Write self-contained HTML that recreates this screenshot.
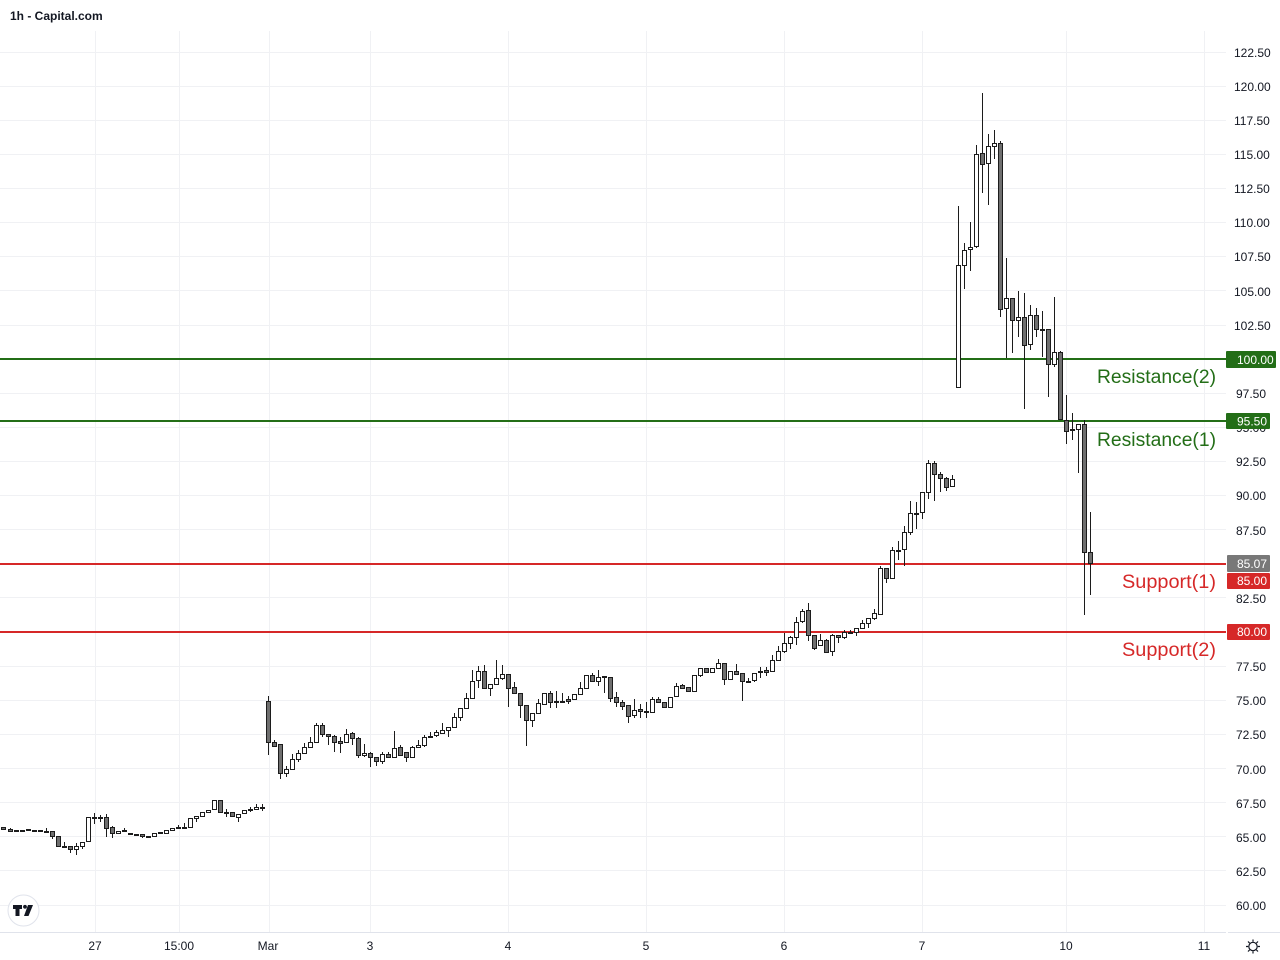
<!DOCTYPE html>
<html><head><meta charset="utf-8"><style>
html,body{margin:0;padding:0;background:#fff;width:1280px;height:960px;overflow:hidden}
svg{display:block}
text{font-family:"Liberation Sans",Arial,sans-serif}
</style></head><body>
<svg width="1280" height="960" viewBox="0 0 1280 960" xmlns="http://www.w3.org/2000/svg">
<rect width="1280" height="960" fill="#fff"/>
<g stroke="#f0f1f4" stroke-width="1" shape-rendering="crispEdges">
<path d="M0 52.5H1226M0 86.5H1226M0 120.5H1226M0 154.5H1226M0 188.5H1226M0 222.5H1226M0 256.5H1226M0 290.5H1226M0 325.5H1226M0 359.5H1226M0 393.5H1226M0 427.5H1226M0 461.5H1226M0 495.5H1226M0 529.5H1226M0 563.5H1226M0 597.5H1226M0 632.5H1226M0 666.5H1226M0 700.5H1226M0 734.5H1226M0 768.5H1226M0 802.5H1226M0 836.5H1226M0 870.5H1226M0 905.5H1226"/>
<path d="M95.5 31V932M179.5 31V932M269.5 31V932M370.5 31V932M508.5 31V932M646.5 31V932M784.5 31V932M922.5 31V932M1066.5 31V932M1204.5 31V932"/>
</g>
<path d="M0 932.5H1226M1228 932.5H1280" stroke="#e0e3eb" stroke-width="1" shape-rendering="crispEdges"/>
<g stroke-width="2" shape-rendering="crispEdges">
<path d="M0 359H1226M0 421H1226" stroke="#236e17"/>
<path d="M0 564H1226M0 632H1226" stroke="#d62828"/>
</g>
<path stroke="#1c1c1c" stroke-width="1" fill="none" d="M3.5 827V829M10.5 828V832M16.5 830V831M22.5 830V831M28.5 829V831M34.5 830V831M40.5 830V831M46.5 828V832M52.5 831V839M58.5 836V847M64.5 842V847M70.5 846V853M76.5 843V855M82.5 842V849M88.5 817V841M94.5 813V824M100.5 815V822M106.5 814V837M112.5 826V838M118.5 831V833M124.5 828V831M130.5 833V834M136.5 834V835M142.5 834V838M148.5 836V837M154.5 833V836M160.5 832V833M166.5 830V833M172.5 828V830M178.5 825V829M184.5 823V828M190.5 818V827M196.5 816V822M202.5 812V816M208.5 810V812M214.5 800V809M220.5 800V812M226.5 809V817M232.5 812V816M238.5 814V822M244.5 810V813M250.5 807V812M256.5 804V809M262.5 804V811M268.5 696V755M274.5 740V747M280.5 744V779M286.5 766V777M292.5 754V769M298.5 750V762M304.5 743V753M310.5 737V747M316.5 723V742M322.5 723V737M328.5 734V745M334.5 735V752M340.5 737V753M346.5 729V742M352.5 732V745M358.5 737V758M364.5 744V757M370.5 752V767M376.5 757V766M382.5 752V764M388.5 752V758M394.5 731V757M400.5 745V756M406.5 752V762M412.5 746V757M418.5 740V747M424.5 735V747M430.5 732V737M436.5 730V737M442.5 723V733M448.5 727V737M454.5 713V727M460.5 708V721M466.5 693V708M472.5 670V698M478.5 666V688M484.5 665V689M490.5 684V696M496.5 660V684M502.5 665V680M508.5 674V707M514.5 682V693M520.5 693V718M526.5 705V746M532.5 713V727M538.5 699V713M544.5 693V704M550.5 691V708M556.5 691V708M562.5 693V703M568.5 696V704M574.5 694V699M580.5 682V694M586.5 675V688M592.5 673V681M598.5 670V686M604.5 676V693M610.5 677V702M616.5 692V707M622.5 700V710M628.5 705V723M634.5 699V718M640.5 704V718M646.5 702V718M652.5 697V712M658.5 697V703M664.5 702V708M670.5 697V707M676.5 683V696M682.5 684V689M688.5 687V691M694.5 675V691M700.5 668V677M706.5 668V672M712.5 668V672M718.5 659V668M724.5 663V685M730.5 671V679M736.5 664V674M742.5 673V701M748.5 678V683M754.5 673V682M760.5 667V678M766.5 667V676M772.5 655V671M778.5 646V661M784.5 633V653M790.5 636V649M796.5 617V645M802.5 609V623M808.5 603V641M814.5 635V650M820.5 634V645M826.5 639V653M832.5 634V656M838.5 635V643M844.5 630V639M850.5 630V634M856.5 628V636M862.5 620V628M868.5 618V628M874.5 609V620M880.5 566V614M886.5 568V583M892.5 547V578M898.5 541V560M904.5 526V566M910.5 501V535M916.5 502V529M922.5 492V519M928.5 460V499M934.5 461V501M940.5 472V492M946.5 477V491M952.5 475V487M958.5 206V387M964.5 243V289M970.5 222V271M976.5 145V248M982.5 93V193M988.5 134V205M994.5 130V159M1000.5 141V317M1006.5 258V358M1012.5 298V353M1018.5 291V337M1024.5 293V409M1030.5 305V350M1036.5 308V337M1042.5 311V357M1048.5 329V397M1054.5 297V367M1060.5 351V419M1066.5 395V444M1072.5 413V440M1078.5 424V473M1084.5 420V615M1090.5 512V595"/>
<path fill="#6f6f6f" stroke="#1c1c1c" stroke-width="1" d="M1.5 827.5h4v2h-4zM8.5 829.5h4v2h-4zM14.5 830.5h4v1h-4zM20.5 830.5h4v1h-4zM26.5 829.5h4v1h-4zM32.5 830.5h4v1h-4zM38.5 830.5h4v1h-4zM44.5 831.5h4v1h-4zM50.5 831.5h4v5h-4zM56.5 836.5h4v10h-4zM62.5 846.5h4v1h-4zM68.5 846.5h4v3h-4zM92.5 817.5h4v1h-4zM98.5 817.5h4v1h-4zM104.5 817.5h4v11h-4zM110.5 827.5h4v6h-4zM122.5 830.5h4v1h-4zM128.5 833.5h4v1h-4zM134.5 834.5h4v1h-4zM140.5 834.5h4v2h-4zM146.5 836.5h4v1h-4zM158.5 832.5h4v1h-4zM176.5 827.5h4v1h-4zM218.5 800.5h4v12h-4zM224.5 812.5h4v1h-4zM230.5 812.5h4v4h-4zM248.5 809.5h4v1h-4zM260.5 807.5h4v1h-4zM266.5 701.5h4v41h-4zM272.5 742.5h4v4h-4zM278.5 744.5h4v29h-4zM320.5 725.5h4v9h-4zM326.5 734.5h4v2h-4zM332.5 736.5h4v6h-4zM338.5 741.5h4v2h-4zM350.5 733.5h4v5h-4zM356.5 738.5h4v17h-4zM368.5 753.5h4v4h-4zM374.5 757.5h4v4h-4zM386.5 754.5h4v3h-4zM398.5 747.5h4v8h-4zM404.5 752.5h4v5h-4zM428.5 736.5h4v1h-4zM482.5 671.5h4v17h-4zM506.5 674.5h4v14h-4zM512.5 687.5h4v6h-4zM518.5 693.5h4v12h-4zM524.5 705.5h4v15h-4zM548.5 693.5h4v9h-4zM554.5 701.5h4v1h-4zM560.5 701.5h4v1h-4zM566.5 699.5h4v2h-4zM590.5 675.5h4v6h-4zM602.5 676.5h4v1h-4zM608.5 677.5h4v21h-4zM614.5 697.5h4v5h-4zM620.5 702.5h4v4h-4zM626.5 705.5h4v11h-4zM638.5 709.5h4v2h-4zM644.5 711.5h4v1h-4zM656.5 699.5h4v3h-4zM662.5 702.5h4v5h-4zM680.5 685.5h4v3h-4zM686.5 687.5h4v4h-4zM704.5 668.5h4v4h-4zM722.5 663.5h4v16h-4zM734.5 671.5h4v3h-4zM740.5 673.5h4v8h-4zM746.5 681.5h4v1h-4zM758.5 671.5h4v1h-4zM764.5 670.5h4v2h-4zM806.5 610.5h4v25h-4zM812.5 635.5h4v13h-4zM824.5 640.5h4v12h-4zM836.5 635.5h4v2h-4zM848.5 632.5h4v1h-4zM884.5 568.5h4v10h-4zM896.5 550.5h4v1h-4zM914.5 513.5h4v1h-4zM932.5 463.5h4v11h-4zM938.5 474.5h4v4h-4zM944.5 478.5h4v9h-4zM980.5 153.5h4v11h-4zM998.5 143.5h4v166h-4zM1010.5 298.5h4v22h-4zM1022.5 317.5h4v28h-4zM1034.5 315.5h4v14h-4zM1040.5 329.5h4v1h-4zM1046.5 329.5h4v35h-4zM1058.5 352.5h4v67h-4zM1064.5 420.5h4v11h-4zM1070.5 429.5h4v1h-4zM1082.5 424.5h4v128h-4zM1088.5 552.5h4v11h-4z"/>
<path fill="#ffffff" stroke="#1c1c1c" stroke-width="1" d="M74.5 846.5h4v3h-4zM80.5 842.5h4v4h-4zM86.5 817.5h4v24h-4zM116.5 831.5h4v2h-4zM152.5 833.5h4v3h-4zM164.5 830.5h4v3h-4zM170.5 828.5h4v2h-4zM182.5 827.5h4v1h-4zM188.5 818.5h4v9h-4zM194.5 816.5h4v2h-4zM200.5 812.5h4v4h-4zM206.5 810.5h4v2h-4zM212.5 800.5h4v9h-4zM236.5 814.5h4v3h-4zM242.5 810.5h4v3h-4zM254.5 807.5h4v2h-4zM284.5 769.5h4v4h-4zM290.5 759.5h4v10h-4zM296.5 753.5h4v6h-4zM302.5 747.5h4v6h-4zM308.5 742.5h4v5h-4zM314.5 725.5h4v17h-4zM344.5 734.5h4v8h-4zM362.5 753.5h4v2h-4zM380.5 754.5h4v7h-4zM392.5 748.5h4v9h-4zM410.5 747.5h4v10h-4zM416.5 745.5h4v2h-4zM422.5 737.5h4v8h-4zM434.5 732.5h4v3h-4zM440.5 730.5h4v3h-4zM446.5 727.5h4v3h-4zM452.5 717.5h4v10h-4zM458.5 708.5h4v9h-4zM464.5 698.5h4v10h-4zM470.5 681.5h4v17h-4zM476.5 671.5h4v9h-4zM488.5 684.5h4v4h-4zM494.5 678.5h4v6h-4zM500.5 674.5h4v4h-4zM530.5 713.5h4v7h-4zM536.5 703.5h4v10h-4zM542.5 693.5h4v11h-4zM572.5 694.5h4v5h-4zM578.5 688.5h4v6h-4zM584.5 675.5h4v13h-4zM596.5 677.5h4v4h-4zM632.5 710.5h4v5h-4zM650.5 699.5h4v13h-4zM668.5 697.5h4v10h-4zM674.5 686.5h4v10h-4zM692.5 675.5h4v16h-4zM698.5 668.5h4v7h-4zM710.5 668.5h4v4h-4zM716.5 663.5h4v5h-4zM728.5 671.5h4v8h-4zM752.5 673.5h4v7h-4zM770.5 660.5h4v11h-4zM776.5 651.5h4v9h-4zM782.5 643.5h4v8h-4zM788.5 637.5h4v6h-4zM794.5 622.5h4v15h-4zM800.5 611.5h4v10h-4zM818.5 640.5h4v5h-4zM830.5 635.5h4v16h-4zM842.5 632.5h4v5h-4zM854.5 628.5h4v4h-4zM860.5 623.5h4v5h-4zM866.5 618.5h4v5h-4zM872.5 613.5h4v5h-4zM878.5 568.5h4v46h-4zM890.5 550.5h4v28h-4zM902.5 532.5h4v17h-4zM908.5 513.5h4v19h-4zM920.5 492.5h4v20h-4zM926.5 463.5h4v29h-4zM950.5 479.5h4v7h-4zM956.5 265.5h4v122h-4zM962.5 250.5h4v15h-4zM968.5 247.5h4v2h-4zM974.5 154.5h4v92h-4zM986.5 146.5h4v17h-4zM992.5 143.5h4v3h-4zM1004.5 298.5h4v10h-4zM1016.5 317.5h4v3h-4zM1028.5 315.5h4v29h-4zM1052.5 352.5h4v12h-4zM1076.5 424.5h4v5h-4z"/>
<g font-size="19">
<text x="1097" y="383" fill="#236e17" textLength="119" lengthAdjust="spacingAndGlyphs">Resistance(2)</text>
<text x="1097" y="446" fill="#236e17" textLength="119" lengthAdjust="spacingAndGlyphs">Resistance(1)</text>
<text x="1122" y="588" fill="#d62828" textLength="94" lengthAdjust="spacingAndGlyphs">Support(1)</text>
<text x="1122" y="656" fill="#d62828" textLength="94" lengthAdjust="spacingAndGlyphs">Support(2)</text>
</g>
<g font-size="12" fill="#131722">
<text x="1234" y="57">122.50</text>
<text x="1234" y="91">120.00</text>
<text x="1234" y="125">117.50</text>
<text x="1234" y="159">115.00</text>
<text x="1234" y="193">112.50</text>
<text x="1234" y="227">110.00</text>
<text x="1234" y="261">107.50</text>
<text x="1234" y="296">105.00</text>
<text x="1234" y="330">102.50</text>
<text x="1236" y="398">97.50</text>
<text x="1236" y="432">95.00</text>
<text x="1236" y="466">92.50</text>
<text x="1236" y="500">90.00</text>
<text x="1236" y="535">87.50</text>
<text x="1236" y="603">82.50</text>
<text x="1236" y="671">77.50</text>
<text x="1236" y="705">75.00</text>
<text x="1236" y="739">72.50</text>
<text x="1236" y="774">70.00</text>
<text x="1236" y="808">67.50</text>
<text x="1236" y="842">65.00</text>
<text x="1236" y="876">62.50</text>
<text x="1236" y="910">60.00</text>
</g>
<rect x="1226" y="351" width="50" height="17" rx="1" fill="#236e17"/>
<rect x="1226" y="413" width="44" height="16" rx="1" fill="#236e17"/>
<rect x="1227" y="555" width="43" height="17" rx="1" fill="#787878"/>
<rect x="1227" y="573" width="43" height="16" rx="1" fill="#d62828"/>
<rect x="1227" y="624" width="43" height="16" rx="1" fill="#d62828"/>
<g font-size="12" fill="#ffffff">
<text x="1237" y="364">100.00</text>
<text x="1237" y="425.5">95.50</text>
<text x="1237" y="568">85.07</text>
<text x="1237" y="585">85.00</text>
<text x="1237" y="636">80.00</text>
</g>
<g font-size="12" fill="#131722" text-anchor="middle">
<text x="95" y="950">27</text>
<text x="179" y="950">15:00</text>
<text x="268" y="950">Mar</text>
<text x="370" y="950">3</text>
<text x="508" y="950">4</text>
<text x="646" y="950">5</text>
<text x="784" y="950">6</text>
<text x="922" y="950">7</text>
<text x="1066" y="950">10</text>
<text x="1204" y="950">11</text>
</g>
<g stroke="#131722" stroke-width="1.2" fill="none">
<circle cx="1253" cy="946.5" r="4.2"/>
<path d="M1253 939.5v2.2M1253 951.3v2.2M1246 946.5h2.2M1257.8 946.5h2.2M1248 941.5l1.6 1.6M1256.4 949.9l1.6 1.6M1258 941.5l-1.6 1.6M1249.6 949.9l-1.6 1.6"/>
</g>
<text x="10" y="20" font-size="12" font-weight="bold" fill="#131722">1h - Capital.com</text>
<circle cx="23.5" cy="910.5" r="15.5" fill="#fff" stroke="#e0e3eb" stroke-width="1"/>
<g fill="#131722">
<path d="M13 905h9v4h-2.5v7h-4v-7H13z"/>
<circle cx="25" cy="906.8" r="1.9"/>
<path d="M28 905h5l-4.5 11h-4.5z"/>
</g>
</svg>
</body></html>
